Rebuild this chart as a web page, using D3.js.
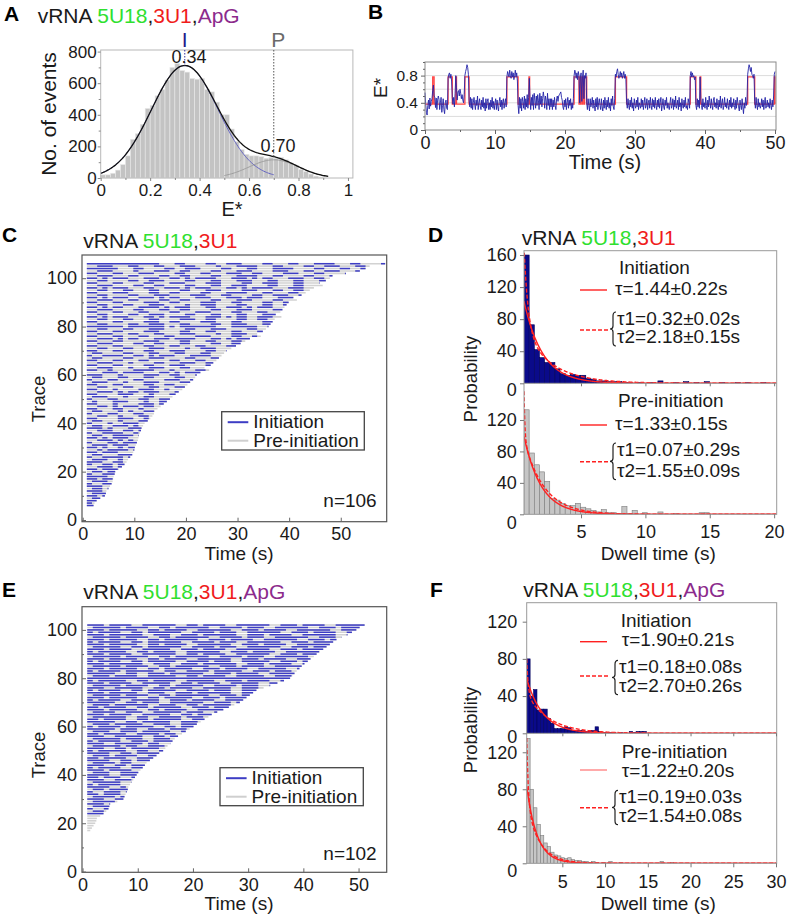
<!DOCTYPE html>
<html>
<head>
<meta charset="utf-8">
<script src="https://cdn.jsdelivr.net/npm/d3@7/dist/d3.min.js"></script>
<style>
html,body{margin:0;padding:0;background:#fff;}
svg{display:block;}
</style>
</head>
<body>
<svg id="fig" width="788" height="917"></svg>
<script>
// ================= DATA =================
// Title pieces
const titleWords = ["vRNA ", "5U18", ",", "3U1", ",", "ApG"];
const titleColors = ["#1a1a1a", "#2fe02f", "#1a1a1a", "#f01c1c", "#1a1a1a", "#8c2b8c"];

// Panel A: E* histogram
const aBinStart = 0, aBinWidth = 0.02;
const aCounts = [20,20,30,50,85,140,245,280,340,440,460,520,560,620,700,725,680,670,630,625,630,560,545,480,400,400,310,230,180,150,140,140,135,125,130,125,130,115,95,80,55,40,25,12,5];
const aGauss1 = {mu:0.34, sigma:0.135, amp:712};
const aGauss2 = {mu:0.70, sigma:0.10, amp:115};
const aYTicks = [0,200,400,600,800], aYMinor = [100,300,500,700];
const aXTicks = [0,0.2,0.4,0.6,0.8,1], aXMinor = [0.1,0.3,0.5,0.7,0.9];

// Panel B: single-molecule trace (E* x100, every 0.1 s) and step fit
const bDt = 0.1;
const bTrace = [
55,38,26,22,36,44,31,47,35,42, 46,58,66,50,48,33,47,30,44,50, 45,30,40,48,26,36,46,30,24,40,
44,32,30,76,82,84,76,82,72,48, 38,48,34,54,80,62,44,56,58,50, 60,54,46,52,44,40,52,80,86,90,
96,92,82,44,34,48,32,46,30,40, 48,38,30,44,36,50,30,40,46,34, 30,44,34,48,32,40,28,46,32,42,
46,30,40,30,44,34,48,32,42,30, 40,46,30,44,34,28,42,48,34,44, 30,42,46,32,40,46,34,78,86,82,
78,88,80,76,86,78,84,74,80,88, 78,84,72,36,24,48,32,46,28,48, 42,32,50,30,46,34,52,32,48,76,
46,30,48,36,52,30,54,44,32,50, 36,52,44,30,54,38,50,34,46,56, 48,32,50,44,30,54,36,46,30,46,
34,46,30,44,34,48,36,30,46,50, 42,50,52,54,56,48,44,34,30,44, 34,46,30,40,48,32,44,36,46,30,
40,32,46,80,88,84,76,84,74,86, 80,40,78,84,42,78,88,46,80,76, 84,40,30,46,36,28,46,34,40,48,
32,44,36,28,46,34,48,30,40,46, 36,30,46,34,28,44,32,48,36,30, 44,34,48,32,40,28,46,36,50,34,
30,46,82,78,86,90,82,76,80,86, 78,84,76,80,86,76,82,74,40,32, 46,36,30,44,34,48,32,40,28,46,
36,32,44,34,48,30,40,36,32,46, 34,44,30,40,48,32,36,46,30,40, 44,32,48,36,30,46,34,44,32,48,
36,30,44,34,46,32,40,48,28,36, 46,34,30,44,36,48,32,40,34,30, 40,48,32,36,46,30,44,34,50,32,
36,44,30,48,34,40,28,46,36,32, 44,34,48,32,36,30,46,40,32,80, 86,78,84,78,80,74,78,36,30,46,
34,44,32,78,46,36,30,46,34,40, 32,48,36,30,44,34,50,40,32,46, 36,30,44,48,34,40,32,46,36,30,
44,34,50,32,40,46,30,36,48,34, 40,32,46,36,30,44,34,48,32,40, 34,46,36,30,44,32,48,40,34,28,
44,36,30,46,34,24,40,32,48,36, 44,82,90,96,92,86,92,82,80,76, 82,42,32,48,36,30,46,34,40,32,
36,46,34,44,30,40,48,32,36,44, 34,40,32,46,36,30,44,34,50,82, 86];
const bHigh = [[1.1,1.3],[3.3,3.9],[4.4,4.5],[5.7,6.3],[11.7,13.3],[14.85,14.95],[21.3,22.0],[22.2,22.4],[22.5,22.7],[22.8,23.1],[27.2,28.8],[37.9,38.7],[39.3,39.4],[46.1,47.1],[49.9,50]];
const bLowLevel = 0.38, bHighLevel = 0.78;
const bYTicks = [0,0.4,0.8], bYMinor = [0.1,0.2,0.3,0.5,0.6,0.7,0.9,1.0], bGrid = [0.2,0.4,0.6,0.8];
const bXTicks = [0,10,20,30,40,50], bXMinor = [5,15,25,35,45];

// Panel C: rasters (1 char = 1 s; 1 = initiation, 0 = pre-initiation)
const cFirstRow = 6, cStart = 0.8, cN = "n=106";
const cEnds = [2.1,2.3,2.7,3.4,4.3,4.5,4.6,5.0,5.3,5.6,
5.8,5.9,6.0,6.2,6.3,7.0,7.6,8.1,8.5,8.8,
9.2,9.6,9.8,10.0,10.1,10.3,10.5,10.7,10.8,10.9,
11.1,11.3,11.4,11.7,12.0,12.6,13.1,13.5,13.8,14.0,
14.5,15.1,15.7,16.3,16.9,17.4,18.0,18.6,19.3,19.8,
20.3,20.9,21.4,21.8,22.1,22.8,24.5,23.6,24.8,25.3,
25.9,26.4,26.9,27.4,27.9,28.8,29.7,30.6,31.5,32.4,
34.5,33.8,34.9,35.5,36.0,36.4,36.8,37.2,38.5,37.4,
38.3,38.7,39.1,39.5,39.9,41.5,40.9,42.4,43.2,44.0,
44.8,46.5,45.9,47.1,47.9,48.4,51.0,53.7,54.8,55.6,
58.6];
const cRows = [
"11","10","11","011","1101","0111","1110","01101","11100","10011",
"01110","110110","111100","100111","011011","1101110","0011101","10011011","11100110","01110010",
"100111101","011000111","110111000","0010111101","1101001011","0111011100","1000110111","0011101010","1101011100","01100111101",
"10011110010","00111001101","11101000111","01100111010","100010011100","011000100011","1100001110010","0011001000110","1000110001100","01100010100110",
"11000110001000","001101011101100","110001000011101","0100011100010011","10001100001100111","01110001000110000","110000111000100011","001110101101110001","1100010000111001000","0011000110001100011",
"11000110000110011000","011100010001110000110","100011000110000111001","011000110001100001100","1110001000011100110001","0001110111100011010111","11001000011110001000011","001110001000111000110001","110001100001100011100001","0011100010000110001110011",
"11000110001100001100011000","01100001100011100001100011","100111100110101110001111000","011000011000110001100011000","1100011000011000111000011001","0011000110001110000100111000","11000110000110001100011000011","001110000110011000110000110011","1100011000011100001100011000110","00111010110001110111100011010111",
"110001100011000110000111000011001","0011100011000110001110000100111000","11000110000111000011000110001100011","00110001100011100001100011100001100","111111101111111010111111100011111001","001100001100111000110000110011100011","1100011000011100110000111000110000110","0011000110001100001110011000011001100","1101011100011010111100011101011001110","00110000110011100001100011000110001110",
"11000110001100001100011100001100011000","00111000011000110011000011000111000011","110101100011110101110001100111010111000","001100011000111000010011100001100011001","1100011000011100110000111000110000110011","0011100011000011001100001100011100001100","11010111001110101100011100011101110001110","001100001100011100001110001100001100111001","1100011100001100110000110001111000110001100","00110001100011000011000111000011100011001100",
"11010111000110011101011100011010111100011100","001110000110011000011000110011100001100011000","1100011000011000111000011100001100111000110001","00110000110011100001100011000111000110001100011","110101110001110011010111100011101011000111001100","0011100011000011001100001100011110001100001100011","110001100011100001100011000111001100001110001100001","00111000010001110011000011000111000011100011001110001","111111000110000110011100001100011000111100001100011001","0011100011000110001110000100011110001100001100111000110",
"1111111111111100011000011001110000110001100011110001100001"];

// Panel E: rasters with ApG
const eFirstRow = 17, eStart = 0.85, eN = "n=102";
const eEnds = [1.4,1.7,2.0,2.3,2.5,2.6,3.2,3.8,4.3,4.7,
4.9,5.0,6.3,7.4,7.6,7.8,8.0,8.2,8.3,8.6,
8.9,9.2,9.5,9.8,10.1,10.5,10.9,11.3,11.6,12.2,
12.8,13.4,14.0,14.6,15.0,15.4,15.9,16.3,16.7,17.3,
18.0,18.7,19.4,20.1,20.7,21.4,22.1,22.8,23.4,24.4,
25.5,26.5,27.5,28.5,29.1,29.7,30.3,30.9,31.5,32.8,
34.0,35.3,36.5,37.6,38.0,38.4,38.8,39.3,39.7,40.2,
40.8,41.3,41.9,42.4,43.0,43.6,44.2,44.8,45.4,46.0,
46.9,48.0,48.8,49.6,50.2,51.1];
const eRows = [
"0","00","00","000","000","000","0000","1110","01100","100110",
"011100","111010","0111100","11100110","0111101","11011100","100111011","011011110","111100101","101111001",
"0111110010","1110011101","1101110011","1111001110","01110011110","11101111001","101111001110","111001101111","011110110001","1111001101110",
"11011110011100","01110111100110","111100110111100","101111100110011","1110011011111001","0111110110011101","11100111110110011","10111100111011110","011111011100111010","1110011111001101110",
"11011110011110110011","011100111011111001110","1111101110011101110011","10111101111100110111100","011101111100111001111010","1111100110111110011101100","11011110011011111001110111","011111100110011110111001101","1110111100111110011011101110","01111001110011111011100111101",
"111011111001101111001111100110","1101111001101111100111011110011","01110111111001110011011111001110","111110011011100111111001110111100","1011110011111001110111100111110011","11101111100110111110011101111001101","011111011110011011111100111011100111","1110111110011100111011111100111001110","10111100110111110011110111001111100110","111001111100110111100111110011101110011",
"0111110111100110111110011110111001101110","11101111001111100110111100111110011101111","101111100110111100111110011101111001110111","11111111111111111111111111111111111111100","011101111001111100110111100111110011101110","1111100110011101111110011101111001111100111","10111101111100110011110111110011101110011110","111011111001101111100111011110011111001110111","0111110111100110111111001110111100111111001101","11101111110011100111011111100111011110011111001",
"101111001101111100111101110011111001110111100111","1110111110011011110011111100111011110011111100111","01111101111001101111110011110111001111110011101110","111011110011111100110111100111111001110111100111110","1011111001101111001111110011101111001111110011101111","11101111001111100111011110011111100111011110011111011","011111001101111110011110111001111110011101111001111100","1110111110011011110011111100111011110011111100111011110","10111100110111111001111011100111111001110111100111111001","111011111001101111110011101111001111110011101111001111100",
"0111110111100110111111001111011100111111001110111100111111","11101111110011100111011111100111011110011111100111011110011","101111001101111110011110111001111110011101111001111110011101","1110111110011011110011111100111011110011111100111011110011111","01111101111001101111110011110111001111110011101111001111110011","111011110011111100110111100111111001110111100111111001110111100"];
const rowYTicks = [0,20,40,60,80,100], rowYMinor = [10,30,50,70,90], rowXTicks = [0,10,20,30,40,50];
const legendLabels = ["Initiation", "Pre-initiation"];

// Panel D: dwell-time histograms (bin width 0.4 s)
const dBinStart = 0.57, dBinWidth = 0.4;
const dInit = [160,73,42,32,26,26,18,12,10,11,10,10,6,5,3,3,2,2,2,1,1,0,1,0,1,0,3,0,0,1,0,2,0,1,0,2,0,0,1,0,0,1,0,1,0,0,1,0,0];
const dPre  = [133,78,63,54,42,20,18,14,11,11,14,9,7,5,3,6,2,2,1,10,1,5,0,2,0,0,3,0,0,1,0,0,0,0,2,2,0,0,0,0,0,0,0,0,0,0,0,0,0];
const dInitFit1 = {A:152, tau:1.44}, dInitFit2 = {A1:623, tau1:0.32, A2:85, tau2:2.18};
const dPreFit1  = {A:152, tau:1.33}, dPreFit2  = {A1:2.1e5, tau1:0.07, A2:138, tau2:1.55};
const dInitText = ["τ=1.44±0.22s", "τ1=0.32±0.02s", "τ2=2.18±0.15s"];
const dPreText  = ["τ=1.33±0.15s", "τ1=0.07±0.29s", "τ2=1.55±0.09s"];
const dXTicks = [5,10,15,20], dTopYTicks = [0,40,80,120,160], dBotYTicks = [0,40,80,120];

// Panel F
const fBinStart = 0.83, fBinWidth = 0.4;
const fInit = [80,40,47,25,26,26,16,11,5,5,5,7,6,3,3,3,3,2,3,3,7,2,1,1,1,1,0,1,0,0,2,1,2,2,2,0,0,0,0,0,0,0,0,0,0];
const fPre  = [135,80,60,42,30,22,18,12,9,8,6,5,6,4,3,3,2,2,1,2,1,0,1,0,2,0,0,1,0,0,0,0,0,0,0,0,0,0,0,2,0,0,1,0,0];
const fInitFit1 = {A:91, tau:1.90}, fInitFit2 = {A1:3820, tau1:0.18, A2:57, tau2:2.70};
const fPreFit1  = {A:164, tau:1.22}, fPreFit2  = {A1:5750, tau1:0.19, A2:107, tau2:1.54};
const fInitText = ["τ=1.90±0.21s", "τ1=0.18±0.08s", "τ2=2.70±0.26s"];
const fPreText  = ["τ=1.22±0.20s", "τ1=0.19±0.03s", "τ2=1.54±0.08s"];
const fXTicks = [5,10,15,20,25,30], fYTicks = [0,40,80,120];

// ================= DRAWING =================
const FONT = '"Liberation Sans", Arial, Helvetica, sans-serif';
const INK = "#1a1a1a";
const svg = d3.select("#fig").attr("font-family", FONT);
svg.append("rect").attr("width", 788).attr("height", 917).attr("fill", "#fff");

function txt(x, y, s, o = {}) {
  const t = svg.append("text").attr("x", x).attr("y", y).text(s)
    .attr("font-size", o.fs || 19).attr("fill", o.fill || INK);
  if (o.anchor) t.attr("text-anchor", o.anchor);
  if (o.weight) t.attr("font-weight", o.weight);
  if (o.rot) t.attr("transform", `rotate(-90,${x},${y})`);
  return t;
}
function title(x, y, n) {
  const t = svg.append("text").attr("x", x).attr("y", y).attr("font-size", 21);
  titleWords.slice(0, n).forEach((w, i) => t.append("tspan").text(w).attr("fill", titleColors[i]));
}
function axis(gen, tx, ty, fs, col) {
  const g = svg.append("g").attr("transform", `translate(${tx},${ty})`).call(gen);
  g.attr("font-family", FONT).attr("font-size", fs);
  g.select(".domain").remove();
  g.selectAll(".tick line").attr("stroke", col || "#555");
  g.selectAll(".tick text").attr("fill", INK);
  return g;
}
function frame(x, y, w, h, col, sw) {
  svg.append("rect").attr("x", x).attr("y", y).attr("width", w).attr("height", h)
    .attr("fill", "none").attr("stroke", col).attr("stroke-width", sw || 1);
}

// ---------- Panel A ----------
{
  const X = d3.scaleLinear().domain([0, 1.02]).range([100.7, 352.9]);
  const Y = d3.scaleLinear().domain([0, 810]).range([178, 50]);
  svg.append("g").selectAll("rect").data(aCounts).join("rect")
    .attr("x", (d, i) => X(aBinStart + i * aBinWidth)).attr("y", d => Y(d))
    .attr("width", X(aBinWidth) - X(0)).attr("height", d => Y(0) - Y(d))
    .attr("fill", "#c3c3c3").attr("stroke", "#e8e8e8").attr("stroke-width", 0.6);
  const g = (p, x) => p.amp * Math.exp(-((x - p.mu) ** 2) / (2 * p.sigma ** 2));
  const tot = x => g(aGauss1, x) + g(aGauss2, x);
  const line = d3.line().x(d => X(d[0])).y(d => Y(d[1]));
  svg.append("path").attr("d", line(d3.range(0, 0.7001, 0.005).map(x => [x, g(aGauss1, x)])))
    .attr("fill", "none").attr("stroke", "#5a5ac0").attr("stroke-width", 0.9);
  svg.append("path").attr("d", line(d3.range(0.5, 0.9201, 0.005).map(x => [x, g(aGauss2, x)])))
    .attr("fill", "none").attr("stroke", "#9a9a9a").attr("stroke-width", 0.9);
  svg.append("path").attr("d", line(d3.range(0, 0.9201, 0.005).map(x => [x, tot(x)])))
    .attr("fill", "none").attr("stroke", "#111").attr("stroke-width", 1.3);
  frame(100.7, 50, 252.2, 128, "#b8b8b8");
  svg.append("line").attr("x1", X(aGauss1.mu)).attr("x2", X(aGauss1.mu)).attr("y1", 50).attr("y2", Y(tot(aGauss1.mu)))
    .attr("stroke", "#3030a0").attr("stroke-width", 1).attr("stroke-dasharray", "1.5,1.5");
  svg.append("line").attr("x1", X(aGauss2.mu)).attr("x2", X(aGauss2.mu)).attr("y1", 50).attr("y2", Y(tot(aGauss2.mu)))
    .attr("stroke", "#555").attr("stroke-width", 1).attr("stroke-dasharray", "1.5,1.5");
  axis(d3.axisLeft(Y).tickValues(aYTicks).tickSize(3).tickPadding(1), 100.7, 0, 17, "#888");
  axis(d3.axisLeft(Y).tickValues(aYMinor).tickSize(2).tickFormat(""), 100.7, 0, 17, "#888");
  axis(d3.axisBottom(X).tickValues(aXTicks).tickSize(3).tickPadding(3).tickFormat(d => String(+d.toFixed(1))), 0, 178, 17, "#888");
  axis(d3.axisBottom(X).tickValues(aXMinor).tickSize(2).tickFormat(""), 0, 178, 17, "#888");
  txt(X(aGauss1.mu), 46.7, "I", {fs: 21, fill: "#1c1c8a", anchor: "middle"});
  txt(X(aGauss2.mu) + 4.5, 46.7, "P", {fs: 21, fill: "#6a6a6a", anchor: "middle"});
  txt(189, 63.3, aGauss1.mu.toFixed(2), {fs: 18, anchor: "middle"});
  txt(278, 151.7, aGauss2.mu.toFixed(2), {fs: 18, anchor: "middle"});
  txt(56, 114, "No. of events", {fs: 21, anchor: "middle", rot: true});
  txt(232, 216, "E*", {fs: 20, anchor: "middle"});
  txt(4, 21, "A", {fs: 21, weight: "bold", fill: "#000"});
  title(37.7, 22.7, 6);
}

// ---------- Panel B ----------
{
  const X = d3.scaleLinear().domain([0, 50]).range([425, 775]);
  const Y = d3.scaleLinear().domain([0, 1]).range([130, 62]);
  svg.append("g").selectAll("line").data(bGrid).join("line")
    .attr("x1", 425).attr("x2", 776).attr("y1", d => Y(d)).attr("y2", d => Y(d))
    .attr("stroke", "#dcdcdc").attr("stroke-width", 1);
  const line = d3.line().x(d => X(d[0])).y(d => Y(d[1]));
  const pts = [[0, bLowLevel]];
  bHigh.forEach(([a, b]) => { pts.push([a, bLowLevel], [a, bHighLevel], [b, bHighLevel], [b, bLowLevel]); });
  pts.push([50, bLowLevel]);
  svg.append("path").attr("d", line(pts)).attr("fill", "none")
    .attr("stroke", "#ff2424").attr("stroke-width", 1.3).attr("stroke-opacity", 0.85);
  svg.append("path").attr("d", line(bTrace.map((v, i) => [i * bDt, v / 100])))
    .attr("fill", "none").attr("stroke", "#2424a8").attr("stroke-width", 0.9);
  frame(425, 62, 351, 68, "#8a8a8a");
  axis(d3.axisLeft(Y).tickValues(bYTicks).tickSize(4).tickPadding(3).tickFormat(d => String(d)), 425, 0, 15.5, "#666");
  axis(d3.axisLeft(Y).tickValues(bYMinor).tickSize(2).tickFormat(""), 425, 0, 15.5, "#666");
  axis(d3.axisBottom(X).tickValues(bXTicks).tickSize(4).tickPadding(2), 0, 130, 18, "#666");
  axis(d3.axisBottom(X).tickValues(bXMinor).tickSize(2).tickFormat(""), 0, 130, 18, "#666");
  txt(387, 88, "E*", {fs: 19, anchor: "middle", rot: true});
  txt(605, 168.5, "Time (s)", {fs: 20, anchor: "middle"});
  txt(368, 19, "B", {fs: 21, weight: "bold", fill: "#000"});
}

// ---------- Raster panels (C, E) ----------
function raster(rows, ends, firstRow, start, X, Y, box) {
  const segs = [];
  rows.forEach((p, i) => {
    const row = firstRow + i, end = ends[i];
    let k = 0;
    while (k < p.length) {
      if (p[k] === "1") {
        let j = k; while (j < p.length && p[j] === "1") j++;
        const a = start + k, b = Math.min(start + j, end);
        if (b > a) segs.push({row, a, b});
        k = j;
      } else k++;
    }
  });
  const bg = rows.map((p, i) => ({row: firstRow + i, a: start, b: ends[i]}));
  const g = svg.append("g");
  g.selectAll("line.bg").data(bg).join("line").attr("class", "bg")
    .attr("x1", d => X(d.a)).attr("x2", d => X(d.b)).attr("y1", d => Y(d.row)).attr("y2", d => Y(d.row))
    .attr("stroke", "#d2d2d2").attr("stroke-width", 1.6);
  g.selectAll("line.fg").data(segs).join("line").attr("class", "fg")
    .attr("x1", d => X(d.a)).attr("x2", d => X(d.b)).attr("y1", d => Y(d.row)).attr("y2", d => Y(d.row))
    .attr("stroke", "#3d3dc4").attr("stroke-width", 1.5);
  frame(box[0], box[1], box[2], box[3], "#555", 1.2);
  axis(d3.axisLeft(Y).tickValues(rowYTicks).tickSize(-4).tickPadding(5), box[0], 0, 18, "#666");
  axis(d3.axisLeft(Y).tickValues(rowYMinor).tickSize(-2).tickFormat(""), box[0], 0, 18, "#666");
  axis(d3.axisBottom(X).tickValues(rowXTicks).tickSize(-4).tickPadding(6), 0, box[1] + box[3], 18, "#666");
}
function rasterLegend(x, y, w, h) {
  svg.append("rect").attr("x", x).attr("y", y).attr("width", w).attr("height", h)
    .attr("fill", "#fff").attr("stroke", "#444").attr("stroke-width", 1.3);
  svg.append("line").attr("x1", x + 6).attr("x2", x + 26.6).attr("y1", y + 10.5).attr("y2", y + 10.5)
    .attr("stroke", "#3d3dc4").attr("stroke-width", 2);
  svg.append("line").attr("x1", x + 6).attr("x2", x + 26.6).attr("y1", y + 29).attr("y2", y + 29)
    .attr("stroke", "#cfcfcf").attr("stroke-width", 2);
  txt(x + 31.6, y + 16.6, legendLabels[0], {fs: 19});
  txt(x + 31.6, y + 35, legendLabels[1], {fs: 19});
}
{
  const X = d3.scaleLinear().domain([0, 58.9]).range([82.7, 386.7]);
  const Y = d3.scaleLinear().domain([-0.7, 109.6]).range([521.7, 255]);
  raster(cRows, cEnds, cFirstRow, cStart, X, Y, [82, 255, 304.7, 266.7]);
  rasterLegend(221.7, 411.7, 142.6, 38.3);
  txt(376.7, 506.7, cN, {fs: 19, anchor: "end"});
  txt(45, 399, "Trace", {fs: 18.5, anchor: "middle", rot: true});
  txt(239, 560.3, "Time (s)", {fs: 19, anchor: "middle"});
  txt(2, 241.7, "C", {fs: 21, weight: "bold", fill: "#000"});
  title(83.3, 248.3, 4);
}
{
  const X = d3.scaleLinear().domain([-0.1, 55.1]).range([82, 386.7]);
  const Y = d3.scaleLinear().domain([-0.3, 109.6]).range([872.3, 606.7]);
  raster(eRows, eEnds, eFirstRow, eStart, X, Y, [82, 606.7, 304.7, 265.6]);
  rasterLegend(220, 767.7, 143.3, 38);
  txt(376.7, 860, eN, {fs: 19, anchor: "end"});
  txt(45, 755, "Trace", {fs: 18.5, anchor: "middle", rot: true});
  txt(239, 910, "Time (s)", {fs: 19, anchor: "middle"});
  txt(2, 596.7, "E", {fs: 21, weight: "bold", fill: "#000"});
  title(83.3, 599.3, 6);
}

// ---------- Dwell-time panels (D, F) ----------
let clipId = 0;
function dwell(cfg) {
  const {X, Yt, Yb, box, mid, binStart, binW, top, bot, fitsTop, fitsBot} = cfg;
  const single = (p, t) => p.A * Math.exp(-t / p.tau);
  const dbl = (p, t) => p.A1 * Math.exp(-t / p.tau1) + p.A2 * Math.exp(-t / p.tau2);
  const ts = d3.range(X.domain()[0], X.domain()[1], 0.02);
  [[top, Yt, box[1], mid, "#0a0a8a", "#00005a", fitsTop], [bot, Yb, mid, box[1] + box[3], "#c6c6c6", "#7c7c7c", fitsBot]]
    .forEach(([data, Y, y0, y1, fill, stroke, fits]) => {
      const id = "clip" + (clipId++);
      svg.append("clipPath").attr("id", id).append("rect").attr("x", box[0]).attr("y", y0).attr("width", box[2]).attr("height", y1 - y0);
      const g = svg.append("g").attr("clip-path", `url(#${id})`);
      g.selectAll("rect").data(data).join("rect")
        .attr("x", (d, i) => X(binStart + i * binW)).attr("width", X(binW) - X(0))
        .attr("y", d => Y(d)).attr("height", d => Y(0) - Y(d))
        .attr("fill", fill).attr("stroke", stroke).attr("stroke-width", 0.6)
        .attr("display", d => d > 0 ? null : "none");
      const line = d3.line().x(d => X(d[0])).y(d => Y(Math.min(d[1], 400)));
      g.append("path").attr("d", line(ts.map(t => [t, single(fits[0], t)])))
        .attr("fill", "none").attr("stroke", "#ff2020").attr("stroke-width", 1.4);
      g.append("path").attr("d", line(ts.map(t => [t, dbl(fits[1], t)])))
        .attr("fill", "none").attr("stroke", "#ff2020").attr("stroke-width", 1.4).attr("stroke-dasharray", "4,2");
    });
  frame(box[0], box[1], box[2], box[3], "#999");
  svg.append("line").attr("x1", box[0]).attr("x2", box[0] + box[2]).attr("y1", mid).attr("y2", mid).attr("stroke", "#999");
}
function dwellAxes(cfg) {
  const {X, Yt, Yb, box, mid, topTicks, botTicks, xTicks, lpad, xpad, zeroShiftTop, zeroShiftBot} = cfg;
  const gt = axis(d3.axisLeft(Yt).tickValues(topTicks).tickSize(4).tickPadding(lpad), box[0], 0, 18, "#777");
  gt.selectAll(".tick").filter(d => d === 0).select("text").attr("y", zeroShiftTop);
  const gb = axis(d3.axisLeft(Yb).tickValues(botTicks).tickSize(4).tickPadding(lpad), box[0], 0, 18, "#777");
  gb.selectAll(".tick").filter(d => d === 0).select("text").attr("y", zeroShiftBot);
  axis(d3.axisBottom(X).tickValues(xTicks).tickSize(3).tickFormat(""), 0, mid, 18, "#777");
  axis(d3.axisBottom(X).tickValues(xTicks).tickSize(4).tickPadding(xpad), 0, box[1] + box[3], 18, "#777");
}
function brace(x, y0, y1) {
  const ym = (y0 + y1) / 2;
  const p = `M${x + 4},${y0} Q${x + 1},${y0} ${x + 1},${y0 + 4} L${x + 1},${ym - 3} Q${x + 1},${ym} ${x - 2},${ym} Q${x + 1},${ym} ${x + 1},${ym + 3} L${x + 1},${y1 - 4} Q${x + 1},${y1} ${x + 4},${y1}`;
  svg.append("path").attr("d", p).attr("fill", "none").attr("stroke", "#222").attr("stroke-width", 1.2);
}
function fitLegend(o) {
  txt(o.hx, o.hy, o.head, {fs: 19});
  svg.append("line").attr("x1", 580).attr("x2", 607).attr("y1", o.ly).attr("y2", o.ly)
    .attr("stroke", "#ff2020").attr("stroke-width", 1.4).attr("stroke-opacity", o.op || 1);
  txt(o.tx, o.ty, o.lines[0], {fs: 19});
  svg.append("line").attr("x1", 580).attr("x2", 608).attr("y1", o.dy).attr("y2", o.dy)
    .attr("stroke", "#ff2020").attr("stroke-width", 1.4).attr("stroke-dasharray", "4,2").attr("stroke-opacity", o.op2 || 1);
  brace(o.bx, o.t1y - 13, o.t2y + 3);
  txt(o.bx + 5, o.t1y, o.lines[1], {fs: 19});
  txt(o.bx + 5, o.t2y, o.lines[2], {fs: 19});
}
{
  const X = d3.scaleLinear().domain([0.57, 20.2]).range([524, 776.7]);
  const Yt = d3.scaleLinear().domain([0, 165.4]).range([383.3, 250.7]);
  const Yb = d3.scaleLinear().domain([0, 166.7]).range([514.3, 383.3]);
  const box = [524, 250.7, 252.7, 263.6], mid = 383.3;
  dwell({X, Yt, Yb, box, mid, binStart: dBinStart, binW: dBinWidth, top: dInit, bot: dPre,
    fitsTop: [dInitFit1, dInitFit2], fitsBot: [dPreFit1, dPreFit2]});
  dwellAxes({X, Yt, Yb, box, mid, topTicks: dTopYTicks, botTicks: dBotYTicks, xTicks: dXTicks,
    lpad: 3.3, xpad: 6.7, zeroShiftTop: 6.7, zeroShiftBot: 8.7});
  fitLegend({head: legendLabels[0], hx: 619, hy: 274, ly: 290, tx: 615, ty: 295, dy: 330, bx: 612, t1y: 325, t2y: 343, lines: dInitText});
  fitLegend({head: legendLabels[1], hx: 618, hy: 407.3, ly: 425, tx: 615, ty: 430, dy: 461.7, bx: 612, t1y: 456, t2y: 476.7, lines: dPreText});
  txt(476.5, 379, "Probability", {fs: 18.5, anchor: "middle", rot: true});
  txt(658.3, 560, "Dwell time (s)", {fs: 19, anchor: "middle"});
  txt(428, 241.7, "D", {fs: 21, weight: "bold", fill: "#000"});
  title(521.7, 245, 4);
}
{
  const X = d3.scaleLinear().domain([0.83, 30.08]).range([526.7, 776.7]);
  const Yt = d3.scaleLinear().domain([0, 140.4]).range([733.3, 602.7]);
  const Yb = d3.scaleLinear().domain([0, 140.5]).range([863.3, 733.3]);
  const box = [526.7, 602.7, 250, 260.6], mid = 733.3;
  dwell({X, Yt, Yb, box, mid, binStart: fBinStart, binW: fBinWidth, top: fInit, bot: fPre,
    fitsTop: [fInitFit1, fInitFit2], fitsBot: [fPreFit1, fPreFit2]});
  dwellAxes({X, Yt, Yb, box, mid, topTicks: fYTicks, botTicks: fYTicks, xTicks: fXTicks,
    lpad: 5.4, xpad: 7.7, zeroShiftTop: 3.4, zeroShiftBot: 7.7});
  fitLegend({head: legendLabels[0], hx: 620.7, hy: 626.7, ly: 641.7, tx: 621.7, ty: 646, dy: 676, bx: 614, t1y: 673.3, t2y: 691.7, lines: fInitText});
  fitLegend({head: legendLabels[1], hx: 621.7, hy: 758.3, ly: 770, tx: 621.7, ty: 776.7, dy: 807.7, bx: 614, t1y: 803.3, t2y: 821.7, lines: fPreText, op: 0.55});
  txt(476.5, 730, "Probability", {fs: 18.5, anchor: "middle", rot: true});
  txt(658.3, 910, "Dwell time (s)", {fs: 19, anchor: "middle"});
  txt(430, 596.7, "F", {fs: 21, weight: "bold", fill: "#000"});
  title(523.3, 596.7, 6);
}
</script>
</body>
</html>
